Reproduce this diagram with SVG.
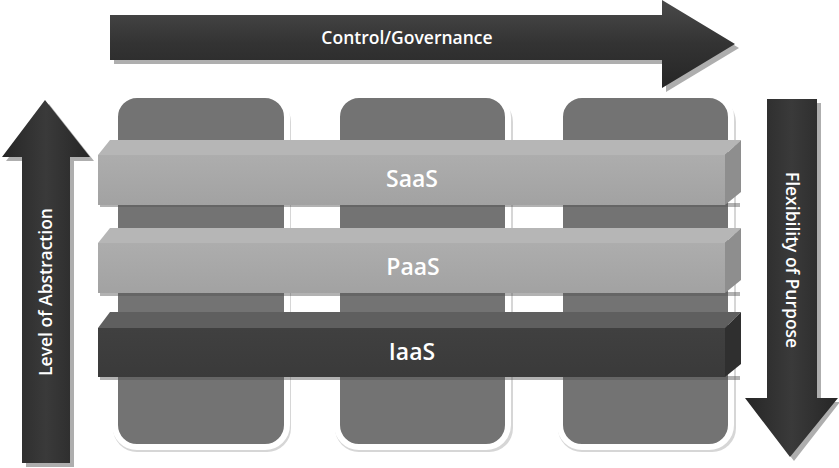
<svg xmlns="http://www.w3.org/2000/svg" width="839" height="468" viewBox="0 0 839 468">
<defs>
<linearGradient id="arrH" x1="0" y1="0" x2="0" y2="1"><stop offset="0" stop-color="#4a4a4a"/><stop offset="0.5" stop-color="#333"/><stop offset="1" stop-color="#262626"/></linearGradient>
<linearGradient id="arrV" x1="0" y1="0" x2="1" y2="0"><stop offset="0" stop-color="#262626"/><stop offset="0.5" stop-color="#3a3a3a"/><stop offset="1" stop-color="#262626"/></linearGradient>
<linearGradient id="lightFront" x1="0" y1="0" x2="0" y2="1"><stop offset="0" stop-color="#adadad"/><stop offset="1" stop-color="#a2a2a2"/></linearGradient>
<linearGradient id="darkFront" x1="0" y1="0" x2="0" y2="1"><stop offset="0" stop-color="#404040"/><stop offset="1" stop-color="#3a3a3a"/></linearGradient>
</defs>
<style>
.shadow{fill:#9a9a9a;opacity:0.8}
.col{fill:#737373;stroke:#ffffff;stroke-width:6}
.colsh{fill:#d6d6d6}
.lt-top{fill:#b6b6b6}
.lt-side{fill:#8e8e8e}
.dk-top{fill:#5f5f5f}
.dk-side{fill:#2f2f2f}
.barsh{fill:#555;opacity:0.45}
.lbl{font-family:"Open Sans","Liberation Sans",sans-serif;font-weight:600;fill:#ffffff;text-anchor:middle}
.big{font-size:23px}
.small{font-size:17.5px}
</style>
<rect width="839" height="468" fill="#ffffff"/>

<g id="columns">
<g id="col1"><rect class="colsh" x="113" y="98" width="178" height="354" rx="24"/><rect class="col" x="115" y="95" width="172" height="352" rx="22"/></g>
<g id="col2"><rect class="colsh" x="335" y="98" width="178" height="354" rx="24"/><rect class="col" x="337" y="95" width="171" height="352" rx="22"/></g>
<g id="col3"><rect class="colsh" x="558" y="98" width="178" height="354" rx="24"/><rect class="col" x="560" y="95" width="171" height="352" rx="22"/></g>
</g>

<g id="saas">
<rect class="barsh" x="100" y="203" width="640" height="4"/>
<polygon class="lt-top" points="98,155 110,140 741,140 725,155"/>
<polygon class="lt-side" points="725,155 741,140 741,192 725,205"/>
<rect x="98" y="155" width="627" height="50" fill="url(#lightFront)"/>
<text class="lbl big" x="412" y="187">SaaS</text>
</g>

<g id="paas">
<rect class="barsh" x="100" y="292" width="640" height="4"/>
<polygon class="lt-top" points="98,243 110,228 741,228 725,243"/>
<polygon class="lt-side" points="725,243 741,228 741,280 725,293"/>
<rect x="98" y="243" width="627" height="50" fill="url(#lightFront)"/>
<text class="lbl big" x="413" y="275">PaaS</text>
</g>

<g id="iaas">
<rect class="barsh" x="100" y="376" width="640" height="4"/>
<polygon class="dk-top" points="98,328 110,312 741,312 725,328"/>
<polygon class="dk-side" points="725,328 741,312 741,364 725,377"/>
<rect x="98" y="328" width="627" height="49" fill="url(#darkFront)"/>
<text class="lbl big" x="412" y="360">IaaS</text>
</g>

<g id="connectors">
<g id="control-arrow">
<polygon class="shadow" points="114,19 666,19 666,4 739,48 666,92 666,64 114,64"/>
<polygon fill="url(#arrH)" points="110,15 662,15 662,0 735,44 662,88 662,60 110,60"/>
<text class="lbl small" x="407" y="44">Control/Governance</text>
</g>
<g id="abstraction-arrow">
<polygon class="shadow" points="49,104 94,161 74,161 74,467 26,467 26,161 6,161"/>
<polygon fill="url(#arrV)" points="45,100 90,157 70,157 70,463 22,463 22,157 2,157"/>
<text class="lbl small" transform="translate(52,292) rotate(-90)">Level of Abstraction</text>
</g>
<g id="flexibility-arrow">
<polygon class="shadow" points="771,103 821,103 821,402 840,402 794,461 749,402 771,402"/>
<polygon fill="url(#arrV)" points="767,99 817,99 817,398 838,398 790,457 745,398 767,398"/>
<text class="lbl small" transform="translate(786,260) rotate(90)">Flexibility of Purpose</text>
</g>
</g>
</svg>
